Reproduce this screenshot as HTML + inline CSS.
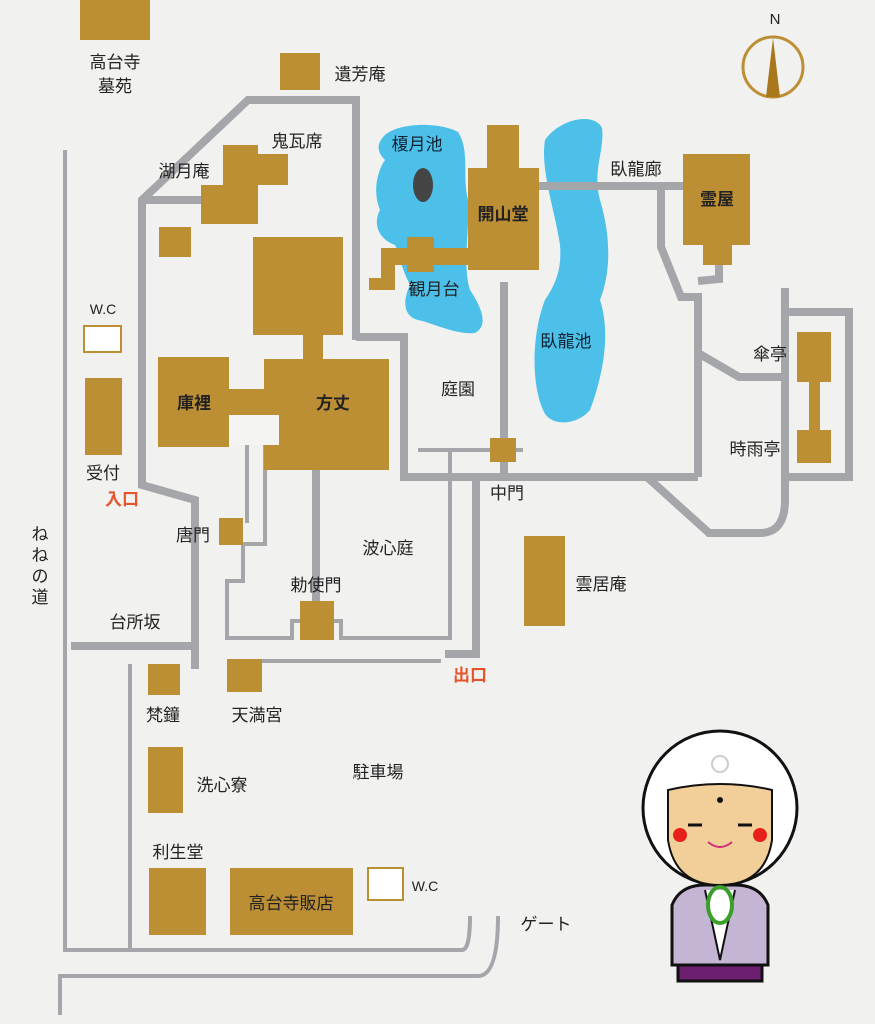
<!DOCTYPE html>
<html><head><meta charset="utf-8"><style>
html,body{margin:0;padding:0;background:#f1f1ef;}
svg{display:block}
text{font-family:"Liberation Sans","Noto Sans CJK JP",sans-serif;font-size:17px;fill:#222;}
.b{font-weight:bold}
.r{fill:#e5542a;font-weight:bold}
</style></head><body>
<svg width="875" height="1024" viewBox="0 0 875 1024" xmlns="http://www.w3.org/2000/svg">
<rect width="875" height="1024" fill="#f1f1ef"/>
<!-- ponds -->
<path d="M385,135 C400,122 440,122 458,132 C470,150 462,175 468,200 C470,230 462,265 470,290 C480,305 490,325 475,333 C455,335 430,322 418,320 C400,315 405,295 410,285 C400,265 400,255 395,245 C380,240 372,225 380,210 C372,190 378,170 385,160 C375,150 378,142 385,135 Z" fill="#4dc0ea"/>
<ellipse cx="423" cy="185" rx="10" ry="17" fill="#444"/>
<path d="M545,140 C560,118 595,112 602,128 C605,150 592,170 600,200 C612,240 610,275 600,300 C610,330 605,370 590,410 C578,425 550,428 543,410 C530,380 533,330 545,300 C555,285 562,270 560,245 C555,210 540,170 545,140 Z" fill="#4dc0ea"/>
<!-- thick gray paths -->
<g fill="none" stroke="#a4a6aa" stroke-width="8" stroke-linejoin="miter">
<path d="M356,340 L356,100 L248,100 L142,200 L142,485 L195,500 L195,669"/>
<path d="M142,200 L205,200"/>
<path d="M356,337 L404,337 L404,477 L698,477"/>
<path d="M71,646 L198,646"/>
<path d="M316,470 L316,620"/>
<path d="M476,477 L476,654 L445,654"/>
<path d="M504,282 L504,477"/>
<path d="M539,186 L683,186"/>
<path d="M661,186 L661,247 L681,297 L698,297 L698,477"/>
<path d="M719,262 L719,279 L698,281"/>
<path d="M698,353 L739,377 L785,377"/>
<path d="M647,477 L709,533 L760,533 Q785,533 785,500 L785,288"/>
<path d="M785,312 L849,312 L849,477 L785,477"/>
</g>
<!-- thin gray lines -->
<g fill="none" stroke="#a4a6aa" stroke-width="4">
<path d="M65,150 L65,950 L462,950 Q470,950 470,916"/>
<path d="M130,664 L130,950"/>
<path d="M60,1015 L60,976 L478,976 Q498,976 498,916"/>
<path d="M247,445 L247,523"/>
<path d="M265,445 L265,544 L243,544 L243,581 L227,581 L227,638 L292,638 L292,621 L300,621"/>
<path d="M334,621 L341,621 L341,638 L450,638 L450,450"/>
<path d="M418,450 L523,450"/>
<path d="M262,661 L441,661"/>
</g>
<!-- buildings -->
<g fill="#bd8f35">
<rect x="80" y="0" width="70" height="40"/>
<rect x="280" y="53" width="40" height="37"/>
<rect x="223" y="145" width="35" height="40"/>
<rect x="257" y="154" width="31" height="31"/>
<rect x="201" y="185" width="57" height="39"/>
<rect x="159" y="227" width="32" height="30"/>
<rect x="253" y="237" width="90" height="98"/>
<rect x="303" y="334" width="20" height="28"/>
<rect x="264" y="359" width="125" height="111"/>
<rect x="158" y="357" width="71" height="90"/>
<rect x="228" y="389" width="40" height="26"/>
<rect x="487" y="125" width="32" height="45"/>
<rect x="468" y="168" width="71" height="102"/>
<rect x="381" y="248" width="90" height="17"/>
<rect x="407" y="237" width="27" height="35"/>
<rect x="381" y="248" width="14" height="42"/>
<rect x="369" y="278" width="26" height="12"/>
<rect x="683" y="154" width="67" height="91"/>
<rect x="703" y="244" width="29" height="21"/>
<rect x="797" y="332" width="34" height="50"/>
<rect x="809" y="380" width="11" height="52"/>
<rect x="797" y="430" width="34" height="33"/>
<rect x="490" y="438" width="26" height="24"/>
<rect x="85" y="378" width="37" height="77"/>
<rect x="219" y="518" width="24" height="27"/>
<rect x="300" y="601" width="34" height="39"/>
<rect x="524" y="536" width="41" height="90"/>
<rect x="148" y="664" width="32" height="31"/>
<rect x="227" y="659" width="35" height="33"/>
<rect x="148" y="747" width="35" height="66"/>
<rect x="149" y="868" width="57" height="67"/>
<rect x="230" y="868" width="123" height="67"/>
</g>
<rect x="229" y="415" width="50" height="30" fill="#f4f4f2"/>
<rect x="84" y="326" width="37" height="26" fill="#fff" stroke="#bd8f35" stroke-width="2"/>
<rect x="368" y="868" width="35" height="32" fill="#fff" stroke="#bd8f35" stroke-width="2"/>
<!-- compass -->
<circle cx="773" cy="67" r="30" fill="none" stroke="#bd8f35" stroke-width="3"/>
<polygon points="773,38 766,97 780,97" fill="#a9781c"/>
<text x="775" y="24" text-anchor="middle" style="font-size:15px">N</text>
<!-- labels -->
<g text-anchor="middle">
<text x="115" y="68">高台寺</text>
<text x="115" y="92">墓苑</text>
<text x="360" y="80">遺芳庵</text>
<text x="297" y="147">鬼瓦席</text>
<text x="184" y="177">湖月庵</text>
<text x="417" y="150" style="fill:#123">榎月池</text>
<text x="503" y="220" class="b">開山堂</text>
<text x="636" y="175">臥龍廊</text>
<text x="717" y="205" class="b">霊屋</text>
<text x="434" y="295">観月台</text>
<text x="566" y="347" style="fill:#123">臥龍池</text>
<text x="458" y="395">庭園</text>
<text x="770" y="360">傘亭</text>
<text x="755" y="455">時雨亭</text>
<text x="194" y="409" class="b">庫裡</text>
<text x="333" y="409" class="b">方丈</text>
<text x="103" y="314" style="font-size:14px">W.C</text>
<text x="103" y="479">受付</text>
<text x="122" y="505" class="r">入口</text>
<text x="507" y="499">中門</text>
<text x="193" y="541">唐門</text>
<text x="388" y="554">波心庭</text>
<text x="601" y="590">雲居庵</text>
<text x="135" y="628">台所坂</text>
<text x="316" y="591">勅使門</text>
<text x="470" y="681" class="r">出口</text>
<text x="163" y="721">梵鐘</text>
<text x="257" y="721">天満宮</text>
<text x="378" y="778">駐車場</text>
<text x="222" y="791">洗心寮</text>
<text x="178" y="858">利生堂</text>
<text x="291" y="909">高台寺販店</text>
<text x="425" y="891" style="font-size:14px">W.C</text>
<text x="546" y="930">ゲート</text>
<text x="40" y="540">ね</text>
<text x="40" y="561">ね</text>
<text x="40" y="582">の</text>
<text x="40" y="603">道</text>
</g>
<!-- character -->
<g stroke="#111" stroke-width="3">
<rect x="678" y="955" width="84" height="26" fill="#6b1f6e"/>
<path d="M672,965 L672,905 Q680,885 705,885 L735,885 Q760,885 768,905 L768,965 Z" fill="#c5b5d4"/>
<path d="M705,890 L720,960 L735,890" fill="#fff" stroke-width="2"/>
<circle cx="720" cy="808" r="77" fill="#fff"/>
<path d="M668,790 Q720,778 772,790 L772,840 Q765,885 720,885 Q675,885 668,840 Z" fill="#f2cf98" stroke-width="2"/>
</g>
<circle cx="720" cy="800" r="3" fill="#111"/>
<path d="M688,825 L702,825 M738,825 L752,825" stroke="#111" stroke-width="3"/>
<circle cx="680" cy="835" r="7" fill="#e8201a"/>
<circle cx="760" cy="835" r="7" fill="#e8201a"/>
<path d="M708,842 Q720,852 732,842" fill="none" stroke="#d0307a" stroke-width="2"/>
<ellipse cx="720" cy="905" rx="12" ry="18" fill="none" stroke="#3aa02a" stroke-width="4"/>
<circle cx="720" cy="764" r="8" fill="none" stroke="#ccc" stroke-width="2"/>
</svg>
</body></html>
